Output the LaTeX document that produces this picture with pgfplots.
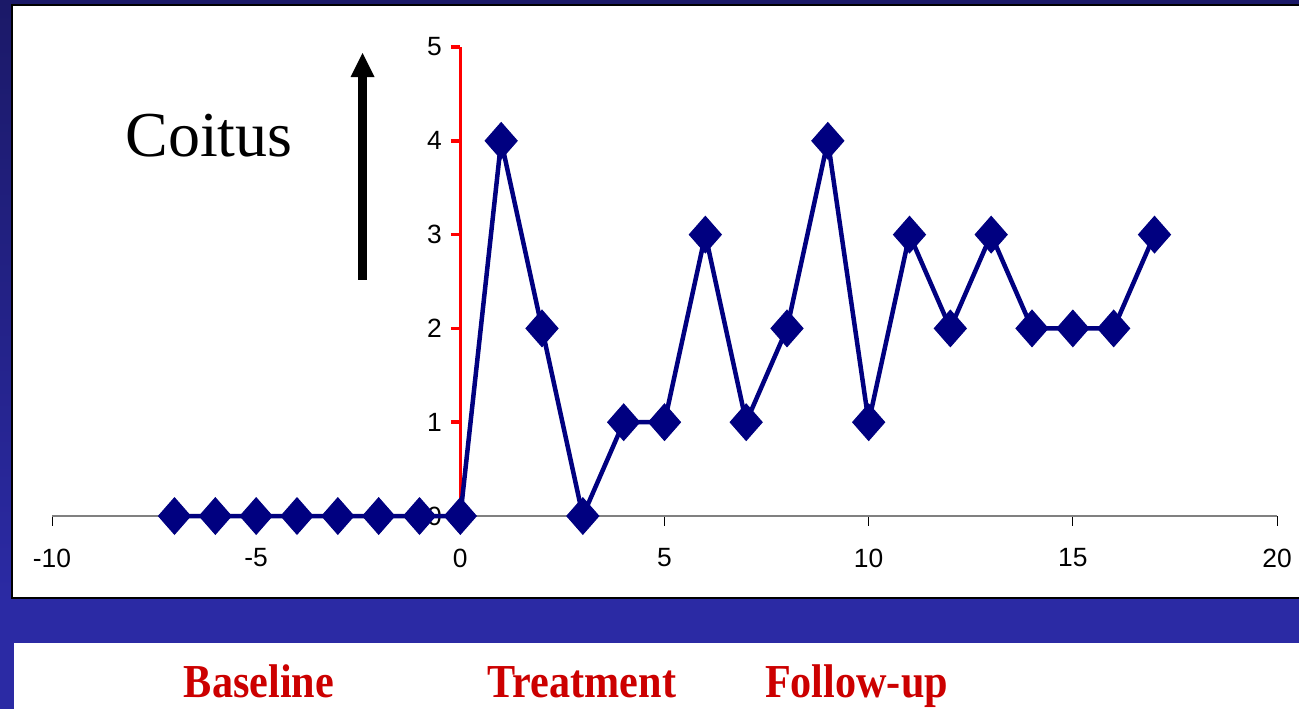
\documentclass[border=0pt]{standalone}
\usepackage{fontspec}
\setmainfont{Liberation Sans}
\newfontfamily\tnr{Liberation Serif}
\usepackage{graphicx}
\usepackage{pgfplots}
\pgfplotsset{compat=1.18}
\definecolor{navyc}{HTML}{000080}
\definecolor{bgtop}{HTML}{1B1968}
\definecolor{bgbot}{HTML}{2B2AA4}
\definecolor{lblred}{HTML}{CC0000}
\begin{document}
\begin{tikzpicture}
\begin{scope}[x=0.5pt,y=-0.5pt]
  \shade[top color=bgtop, bottom color=bgbot] (0,0) rectangle (1305,600);
  \fill[bgbot] (0,600) rectangle (1305,715);
  \filldraw[fill=white, draw=black, line width=1pt] (12,5) rectangle (1310,598);
  \fill[white] (14,643) rectangle (1305,715);
  % arrow
  \fill[black] (358.3,280) rectangle (366.7,76);
  \fill[black] (350.5,77) -- (374.5,77) -- (362.5,53) -- cycle;
  \node[anchor=base west, inner sep=0pt, font=\tnr\fontsize{32}{32}\selectfont] at (125,156) {Coitus};
  \node[anchor=base, inner sep=0pt, text=lblred, font=\tnr\bfseries\fontsize{21.1}{21.1}\selectfont] at (259,697) {\scalebox{1}[1.12]{Baseline}};
  \node[anchor=base, inner sep=0pt, text=lblred, font=\tnr\bfseries\fontsize{21.1}{21.1}\selectfont] at (582,697) {\scalebox{1}[1.12]{Treatment}};
  \node[anchor=base, inner sep=0pt, text=lblred, font=\tnr\bfseries\fontsize{21.1}{21.1}\selectfont] at (856.5,697) {\scalebox{1}[1.12]{Follow-up}};
\end{scope}
\begin{axis}[
  at={(26pt,-258pt)}, anchor=south west,
  scale only axis, width=612.5pt, height=234.5pt,
  xmin=-10, xmax=20, ymin=0, ymax=5,
  axis x line=middle, axis y line=middle,
  x axis line style={draw=gray, line width=1pt, -},
  y axis line style={draw=red, line width=1.75pt, -},
  hide obscured x ticks=false, hide obscured y ticks=false,
  xtick={-10,-5,0,5,10,15,20}, ytick={0,1,2,3,4,5},
  tick align=outside,
  major tick length=4.75pt,
  xtick style={black, line width=0.5pt},
  ytick style={red, line width=1.75pt},
  /pgf/number format/assume math mode=true,
  ticklabel style={font=\fontsize{13.2}{13.2}\selectfont},
  xticklabel style={anchor=north, yshift=-8pt},
  yticklabel style={anchor=east, xshift=-1pt},
  clip=false,
]
\addplot[color=navyc, line width=2.25pt, mark=square*, mark size=5.66pt,
  mark options={yscale=1.14, rotate=45, line width=0.5pt, solid, fill=navyc}]
  coordinates {
  (-7,0) (-6,0) (-5,0) (-4,0) (-3,0) (-2,0) (-1,0) (0,0)
  (1,4) (2,2) (3,0) (4,1) (5,1) (6,3) (7,1) (8,2) (9,4) (10,1)
  (11,3) (12,2) (13,3) (14,2) (15,2) (16,2) (17,3)
  };
\end{axis}
\pgfresetboundingbox
\path (0,0) rectangle (649.5pt,-354pt);
\end{tikzpicture}
\end{document}
